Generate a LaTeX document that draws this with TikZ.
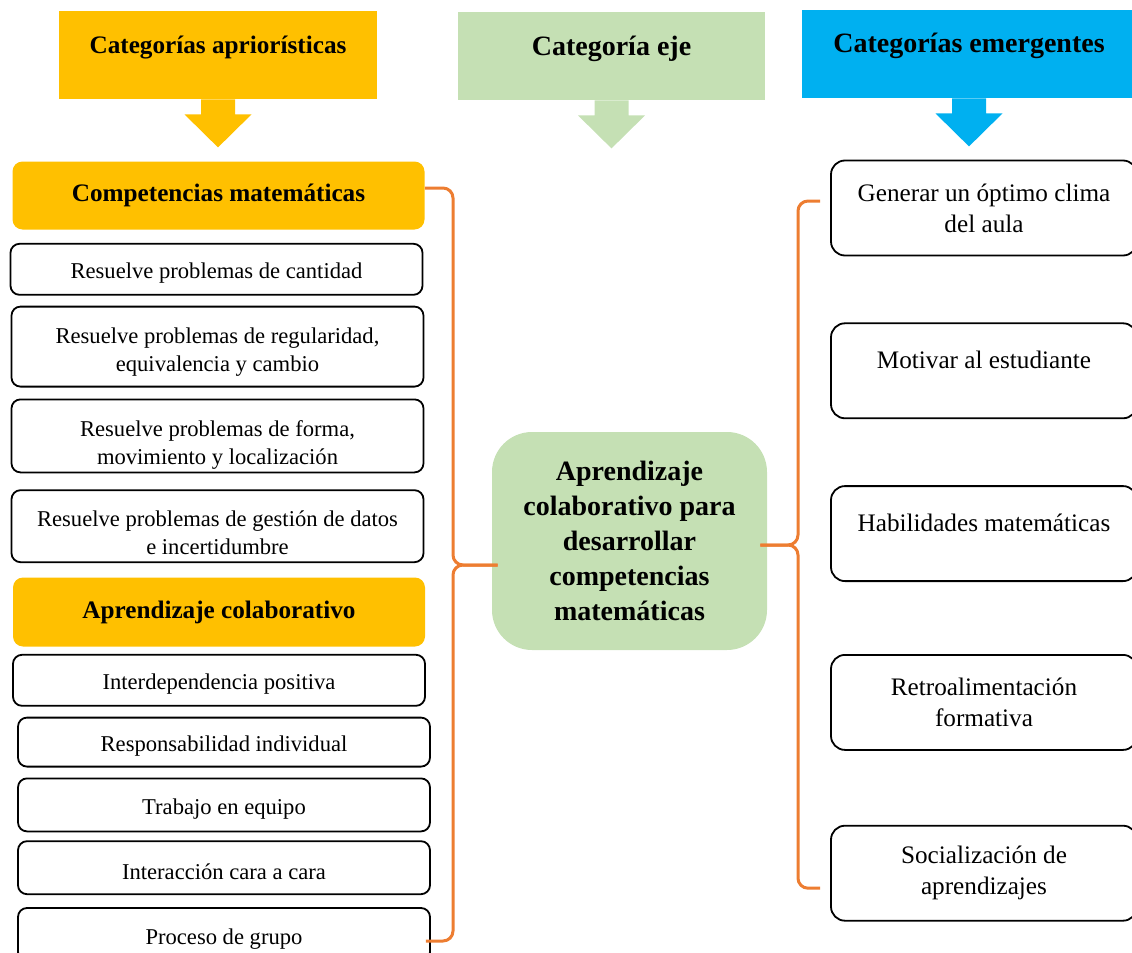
\documentclass[tikz,border=0pt]{standalone}
\usepackage{fontspec}
\setmainfont{Liberation Serif}
\usetikzlibrary{positioning, calc}
\definecolor{catyellow}{HTML}{FFC000}
\definecolor{catgreen}{HTML}{C5E0B4}
\definecolor{catblue}{HTML}{00B0F0}
\definecolor{braceorange}{HTML}{ED7D31}

% block arrow under a category header
\newcommand{\catarrow}[2]{%
  \fill[#2] ([xshift=-8.5pt]#1.south) -- ++(0,-7.5pt) -- ++(-8.25pt,0) -- ++(16.75pt,-16.5pt)
    -- ++(16.75pt,16.5pt) -- ++(-8.25pt,0) -- ++(0,7.5pt) -- cycle;}

\begin{document}
\begin{tikzpicture}[x=0.5pt, y=-0.5pt,
    every node/.style={align=center, inner sep=2pt},
    cathead/.style={minimum height=44pt, font=\bfseries\fontsize{14}{17}\selectfont, text height=10pt, text depth=11pt},
    subhead/.style={fill=catyellow, rounded corners=5pt, minimum width=206pt, minimum height=34pt, font=\bfseries\fontsize{12.6}{15}\selectfont},
    item/.style={draw, line width=0.9pt, rounded corners=4.5pt, minimum width=206pt, text height=12pt, font=\fontsize{11.3}{14}\selectfont},
    emerg/.style={draw, line width=0.9pt, rounded corners=7pt, minimum width=153pt, minimum height=47.5pt, font=\fontsize{12.6}{15.5}\selectfont},
    oneline/.style={text height=9pt, text depth=11.5pt},
    brace/.style={draw=braceorange, line width=1.5pt, rounded corners=5pt}]
    \useasboundingbox (0,0) rectangle (1132,953);

    % headers
    \node [cathead, fill=catyellow, minimum width=159pt, font=\bfseries\fontsize{12.6}{15}\selectfont] (apr) at (218,55) {Categorías apriorísticas};
    \node [cathead, fill=catgreen, minimum width=153.5pt] (eje) at (611.5,56) {Categoría eje};
    \node [cathead, fill=catblue, minimum width=167pt] (emer) at (969,54) {Categorías emergentes};
    \catarrow{apr}{catyellow}
    \catarrow{eje}{catgreen}
    \catarrow{emer}{catblue}

    % a priori categories
    \node [subhead] (compmat) at (218.5,195.5) {Competencias matemáticas};
    \node [item, minimum height=25.5pt, below=6.5pt of compmat, xshift=-1pt] (cantidad) {Resuelve problemas de cantidad};
    \node [item, minimum height=40pt, text height=27.5pt, below=5pt of cantidad, xshift=0.5pt] (regular) {Resuelve problemas de regularidad,\\equivalencia y cambio};
    \node [item, minimum height=36.5pt, text height=31.5pt, inner ysep=0.5pt, below=5.5pt of regular] (forma) {Resuelve problemas de forma,\\movimiento y localización};
    \node [item, minimum height=36pt, text height=28.5pt, below=8pt of forma] (datos) {Resuelve problemas de gestión de datos\\e incertidumbre};
    \node [subhead, minimum height=34.5pt, below=7pt of datos, xshift=0.75pt] (aprcol) {Aprendizaje colaborativo};
    \node [item, minimum height=25.5pt, below=3.5pt of aprcol] (interdep) {Interdependencia positiva};
    \node [item, minimum height=24.5pt, below=5pt of interdep, xshift=2.5pt] (respons) {Responsabilidad individual};
    \node [item, minimum height=26.5pt, below=5pt of respons] (trabajo) {Trabajo en equipo};
    \node [item, minimum height=26.5pt, below=4pt of trabajo] (interacc) {Interacción cara a cara};
    \node [item, minimum height=26.5pt, below=6pt of interacc] (proceso) {Proceso de grupo};

    % axis category
    \node [fill=catgreen, rounded corners=20pt, minimum width=137.5pt, minimum height=109pt, font=\bfseries\fontsize{14}{17.5}\selectfont] (centre) at (629.5,541) {Aprendizaje\\colaborativo para\\desarrollar\\competencias\\matemáticas};

    % emergent categories
    \node [emerg] (clima) at (984,208) {Generar un óptimo clima\\del aula};
    \node [emerg, oneline, below=33pt of clima] (motivar) {Motivar al estudiante};
    \node [emerg, oneline, below=33pt of motivar] (habil) {Habilidades matemáticas};
    \node [emerg, below=36pt of habil] (retro) {Retroalimentación\\formativa};
    \node [emerg, below=37pt of retro] (social) {Socialización de\\aprendizajes};

    % braces
    \coordinate (lcusp) at (453,565);
    \coordinate (rcusp) at (798,545);
    \draw [brace] ([yshift=3.75pt]compmat.east) -| (lcusp) -- ([xshift=3pt]lcusp -| centre.west);
    \draw [brace] ([xshift=3pt]lcusp -| centre.west) -- (lcusp) |- ([xshift=-2.5pt,yshift=-3.25pt]proceso.east);
    \draw [brace] ([xshift=-5pt,yshift=3.5pt]clima.west) -| (rcusp) -- ([xshift=-3.5pt]rcusp -| centre.east);
    \draw [brace] ([xshift=-3.5pt]rcusp -| centre.east) -- (rcusp) |- ([xshift=-5pt,yshift=-7.5pt]social.west);
\end{tikzpicture}
\end{document}
